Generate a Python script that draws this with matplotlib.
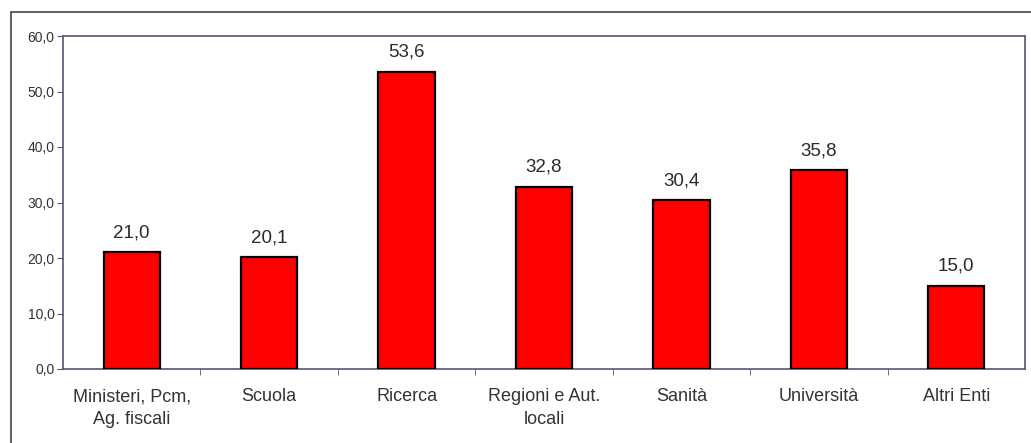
import matplotlib
matplotlib.use("Agg")
import matplotlib.pyplot as plt
from matplotlib.patches import Rectangle
from matplotlib.ticker import FixedLocator

categories = ["Ministeri, Pcm,\nAg. fiscali", "Scuola", "Ricerca", "Regioni e Aut.\nlocali",
              "Sanità", "Università", "Altri Enti"]
values = [21.0, 20.1, 53.6, 32.8, 30.4, 35.8, 15.0]
yticks = [0, 10, 20, 30, 40, 50, 60]

plt.rcParams['font.family'] = ['Liberation Sans', 'DejaVu Sans']

fig = plt.figure(figsize=(10.31, 4.43), dpi=100)
ax = fig.add_axes([63/1031, 1-369/443, (1025-63)/1031, (369-36)/443])

x = list(range(len(categories)))
ax.bar(x, values, width=0.41, color="#ff0000", edgecolor="black", linewidth=1.6, zorder=3)
for xi, v in zip(x, values):
    ax.text(xi, v + 2.7, f"{v:.1f}".replace(".", ","), ha="center", va="baseline",
            fontsize=13.5, color="#2a2a2a")

ax.set_xlim(-0.5, len(categories) - 0.5)
ax.set_ylim(0, 60)
ax.set_yticks(yticks)
ax.set_yticklabels([f"{t:.1f}".replace(".", ",") for t in yticks], fontsize=10, color="#333333")
ax.set_xticks(x)
ax.set_xticklabels(categories, fontsize=13, color="#333333", linespacing=1.45)
ax.xaxis.set_minor_locator(FixedLocator([i + 0.5 for i in range(len(categories) - 1)]))
ax.tick_params(axis="x", which="major", length=0, pad=14)
ax.tick_params(axis="x", which="minor", length=4, color="#555566")
ax.tick_params(axis="y", length=4, color="#555566", pad=2)
for s in ax.spines.values():
    s.set_color("#555570")
    s.set_linewidth(1.2)

fig.patches.append(Rectangle((11/1031, -0.1), 1.2, 1.1 - 12/443, transform=fig.transFigure,
                             fill=False, edgecolor="#444444", linewidth=1.2, clip_on=False))

fig.savefig("out.png", dpi=100)
